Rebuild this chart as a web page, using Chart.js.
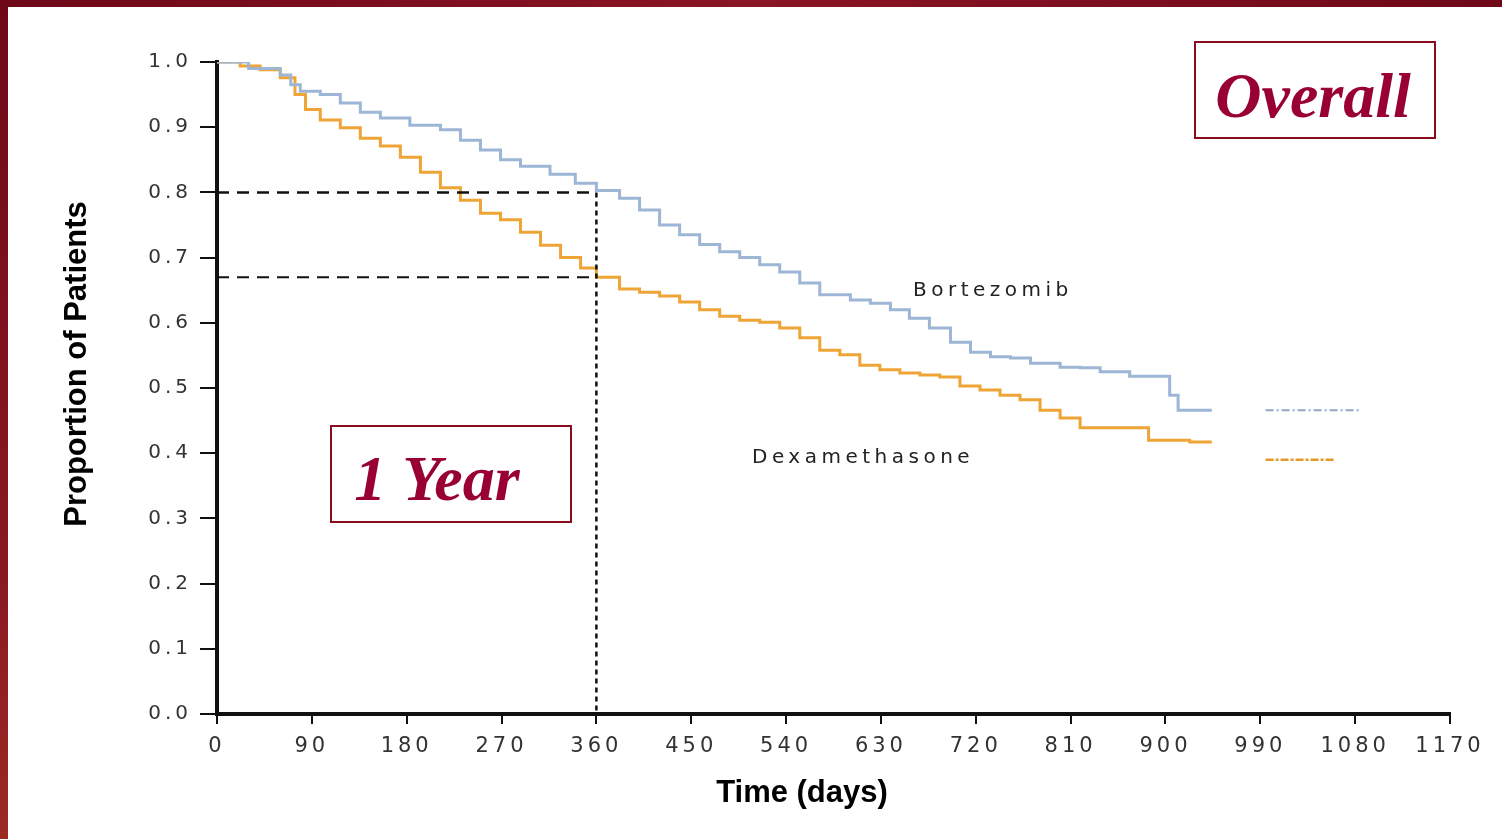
<!DOCTYPE html>
<html>
<head>
<meta charset="utf-8">
<script src="https://cdn.jsdelivr.net/npm/chart.js@4/dist/chart.umd.min.js"></script>
<style>
  html, body { margin: 0; padding: 0; background: #fff; }
  #wrap { position: relative; width: 1502px; height: 839px; overflow: hidden; }
  #survChart { position: absolute; left: 0; top: 0; }
  .band-top { position: absolute; left: 0; top: 0; width: 1502px; height: 7px; background: linear-gradient(90deg, #6e0818, #8a1524 50%, #6e0818); }
  .band-left { position: absolute; left: 0; top: 0; width: 8px; height: 839px; background: linear-gradient(180deg, #6e0818, #8a1a22 70%, #9a2a22); }
</style>
</head>
<body>
<div id="wrap">
  <canvas id="survChart" width="1502" height="839"></canvas>
  <div class="band-top"></div>
  <div class="band-left"></div>
</div>
<script>
// Kaplan-Meier readings (days, proportion surviving)
const bortDays = [0, 30, 60, 70, 79, 98, 117, 136, 155, 183, 212, 231, 250, 269, 288, 316, 340, 360, 382, 401, 420, 439, 458, 477, 496, 515, 534, 553, 572, 601, 620, 639, 657, 676, 696, 715, 734, 753, 772, 800, 819, 838, 866, 904, 912, 944];
const bortSurv = [1.0, 0.99, 0.98, 0.965, 0.955, 0.95, 0.937, 0.923, 0.914, 0.903, 0.896, 0.88, 0.865, 0.85, 0.84, 0.828, 0.814, 0.803, 0.791, 0.773, 0.75, 0.735, 0.72, 0.709, 0.70, 0.689, 0.678, 0.661, 0.643, 0.635, 0.63, 0.62, 0.607, 0.592, 0.57, 0.555, 0.548, 0.546, 0.538, 0.532, 0.531, 0.525, 0.518, 0.489, 0.466, 0.466];

const dexDays = [0, 22, 41, 60, 74, 84, 98, 117, 136, 155, 174, 193, 212, 231, 250, 269, 288, 307, 326, 345, 360, 382, 401, 420, 439, 458, 477, 496, 515, 534, 553, 572, 591, 610, 629, 648, 667, 686, 705, 724, 743, 762, 781, 800, 819, 884, 923, 944];
const dexSurv = [1.0, 0.994, 0.988, 0.976, 0.95, 0.927, 0.911, 0.899, 0.883, 0.871, 0.854, 0.831, 0.807, 0.788, 0.768, 0.758, 0.739, 0.719, 0.70, 0.684, 0.670, 0.652, 0.647, 0.641, 0.632, 0.62, 0.61, 0.604, 0.601, 0.592, 0.577, 0.558, 0.551, 0.535, 0.528, 0.523, 0.52, 0.517, 0.503, 0.497, 0.489, 0.482, 0.466, 0.454, 0.439, 0.420, 0.417, 0.417];

// short trailing segments at the right
const bortTailDays = [995, 1085];
const bortTailSurv = [0.466, 0.466];
const dexTailDays = [995, 1061];
const dexTailSurv = [0.39, 0.39];

// 1-year reference lines
const yearDays = [0, 360];
const yearBort = [0.8, 0.8];
const yearDex = [0.67, 0.67];
const yearVertDays = [360, 360];
const yearVertSurv = [0.8, 0];

const xTicks = [0, 90, 180, 270, 360, 450, 540, 630, 720, 810, 900, 990, 1080, 1170];
const yTicks = [0, 0.1, 0.2, 0.3, 0.4, 0.5, 0.6, 0.7, 0.8, 0.9, 1.0];

const toPts = (xs, ys) => xs.map((x, i) => ({ x: x, y: ys[i] }));

const blue = "#9db6d6";
const orange = "#eea536";

const overlay = {
    id: "overlay",
    beforeDraw(chart) {
        chart.ctx.letterSpacing = "4px";
    },
    afterDraw(chart) {
        const ctx = chart.ctx;
        ctx.save();

        // curve labels
        ctx.fillStyle = "#222";
        ctx.font = "20px 'DejaVu Sans'";
        ctx.textBaseline = "middle";
        ctx.textAlign = "left";
        ctx.letterSpacing = "4.5px";
        ctx.fillText("Bortezomib", 913, 291);
        ctx.fillText("Dexamethasone", 752, 458);

        // axis titles
        ctx.letterSpacing = "0px";
        ctx.fillStyle = "#000";
        ctx.font = "bold 31px 'Liberation Sans'";
        ctx.textAlign = "center";
        ctx.fillText("Time (days)", 802, 793);
        ctx.save();
        ctx.translate(77, 364);
        ctx.rotate(-Math.PI / 2);
        ctx.fillText("Proportion of Patients", 0, 0);
        ctx.restore();

        // boxed captions
        ctx.strokeStyle = "#8b0c1c";
        ctx.lineWidth = 2;
        ctx.strokeRect(1195, 42, 240, 96);
        ctx.strokeRect(331, 426, 240, 96);
        ctx.fillStyle = "#990033";
        ctx.font = "italic bold 64px 'Liberation Serif'";
        ctx.textBaseline = "alphabetic";
        ctx.fillText("Overall", 1313, 117);
        ctx.fillText("1 Year", 437, 500);

        ctx.restore();
    }
};

new Chart(document.getElementById("survChart"), {
    type: "line",
    data: {
        datasets: [
            { data: toPts(yearDays, yearBort), borderColor: "#111", borderWidth: 2.5, borderDash: [12, 8] },
            { data: toPts(yearDays, yearDex), borderColor: "#111", borderWidth: 2, borderDash: [12, 8] },
            { data: toPts(yearVertDays, yearVertSurv), borderColor: "#111", borderWidth: 2.5, borderDash: [5, 4] },
            { data: toPts(bortDays, bortSurv), borderColor: blue, borderWidth: 3, stepped: true },
            { data: toPts(dexDays, dexSurv), borderColor: orange, borderWidth: 3, stepped: true },
            { data: toPts(bortTailDays, bortTailSurv), borderColor: "#8fa6c4", borderWidth: 2, borderDash: [8, 3, 2, 3] },
            { data: toPts(dexTailDays, dexTailSurv), borderColor: "#e39a2a", borderWidth: 2.5, borderDash: [8, 2, 3, 2] }
        ]
    },
    options: {
        responsive: false,
        animation: false,
        parsing: false,
        elements: { point: { radius: 0 }, line: { tension: 0 } },
        layout: { padding: { top: 62, right: 52, bottom: 0, left: 0 } },
        plugins: { legend: { display: false }, tooltip: { enabled: false } },
        scales: {
            x: {
                type: "linear",
                min: 0,
                max: 1170,
                afterBuildTicks: s => { s.ticks = xTicks.map(v => ({ value: v })); },
                afterFit: s => { s.height = 125; },
                grid: { drawOnChartArea: false, tickLength: 10, lineWidth: 2, color: "#111" },
                border: { width: 4, color: "#111" },
                ticks: { autoSkip: false, maxRotation: 0, padding: 10, color: "#333", font: { family: "DejaVu Sans", size: 21 }, callback: v => String(v) }
            },
            y: {
                type: "linear",
                min: 0,
                max: 1,
                afterBuildTicks: s => { s.ticks = yTicks.map(v => ({ value: v })); },
                afterFit: s => { s.width = 217; },
                grid: { drawOnChartArea: false, tickLength: 17, lineWidth: 2, color: "#111" },
                border: { width: 4, color: "#111" },
                ticks: { padding: 8, color: "#333", font: { family: "DejaVu Sans", size: 20 }, callback: v => v.toFixed(1) }
            }
        }
    },
    plugins: [overlay]
});
</script>
</body>
</html>
